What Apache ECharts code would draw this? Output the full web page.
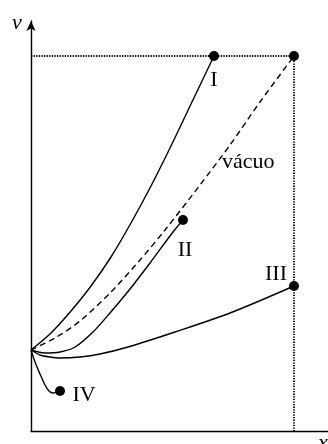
<!DOCTYPE html>
<html>
<head>
<meta charset="utf-8">
<script src="https://cdn.jsdelivr.net/npm/echarts@6/dist/echarts.min.js"></script>
<style>
  html, body { margin: 0; padding: 0; background: #fff; }
  #chart { width: 328px; height: 444px; }
</style>
</head>
<body>
<div id="chart"></div>
<script>
// curves, in plot units (x to the right, v upwards, origin at the axes corner)
var curveI = [[0, 81], [20, 98], [40, 120], [60, 145], [80, 174], [100, 208], [120, 245], [140, 285], [160, 327], [183, 375]]
var curveVacuo = [[0, 81], [24, 93], [49, 110], [79, 138], [109, 171], [134, 201], [169, 246], [199, 286], [229, 329], [263, 375]]
var curveII = [[0, 81], [14, 78], [29, 79], [44, 84], [62, 99], [79, 118], [99, 142], [119, 168], [142, 199], [152, 211]]
var curveIII = [[0, 81], [9, 76], [19, 74], [29, 73], [49, 74], [69, 77], [97, 84], [144, 99], [199, 118], [263, 145]]
var curveIV = [[0, 81], [4, 69], [9, 57], [14, 46], [18, 40], [22, 38], [26, 39], [29, 40]]
var guide = [[0, 375], [263, 375], [263, 0]]
var endPoints = [[183, 375], [263, 375], [152, 211], [263, 145], [29, 40]]

var chart = echarts.init(document.getElementById('chart'))
var serif = '"Liberation Serif", "DejaVu Serif", serif'

function curve(data, dashed) {
  return {
    type: 'line',
    data: data,
    smooth: 0.3,
    symbol: 'none',
    silent: true,
    lineStyle: {
      color: '#000',
      width: 1.4,
      type: dashed ? [6, 4] : 'solid'
    },
    z: 3
  }
}

function label(text, x, y, italic, align) {
  return {
    type: 'text',
    x: x,
    y: y,
    style: {
      text: text,
      font: (italic ? 'italic ' : '') + '22px ' + serif,
      fill: '#000',
      align: align || 'center',
      verticalAlign: 'middle'
    }
  }
}

chart.setOption({
  animation: false,
  backgroundColor: '#fff',
  grid: { left: 31, right: 0, top: 21, bottom: 13 },
  xAxis: {
    type: 'value',
    min: 0,
    max: 297,
    axisLine: { show: true, onZero: false, lineStyle: { color: '#000', width: 1.4 } },
    axisTick: { show: false },
    axisLabel: { show: false },
    splitLine: { show: false }
  },
  yAxis: {
    type: 'value',
    min: 0,
    max: 410,
    axisLine: {
      show: true,
      onZero: false,
      symbol: ['none', 'arrow'],
      symbolSize: [7, 10],
      lineStyle: { color: '#000', width: 1.4 }
    },
    axisTick: { show: false },
    axisLabel: { show: false },
    splitLine: { show: false }
  },
  series: [
    {
      type: 'line',
      data: guide,
      symbol: 'none',
      silent: true,
      lineStyle: { color: '#000', width: 1.8, type: [1.3, 1.3] },
      z: 2
    },
    curve(curveI),
    curve(curveVacuo, true),
    curve(curveII),
    curve(curveIII),
    curve(curveIV),
    {
      type: 'scatter',
      data: endPoints,
      symbolSize: 10,
      itemStyle: { color: '#000', opacity: 1 },
      silent: true,
      z: 5
    }
  ],
  graphic: [
    label('v', 17, 23, true),
    label('x', 323, 443, true),
    label('I', 214, 80),
    label('II', 185, 250),
    label('III', 276, 274),
    label('IV', 84, 395),
    label('vácuo', 222, 162, false, 'left')
  ]
})
</script>
</body>
</html>
